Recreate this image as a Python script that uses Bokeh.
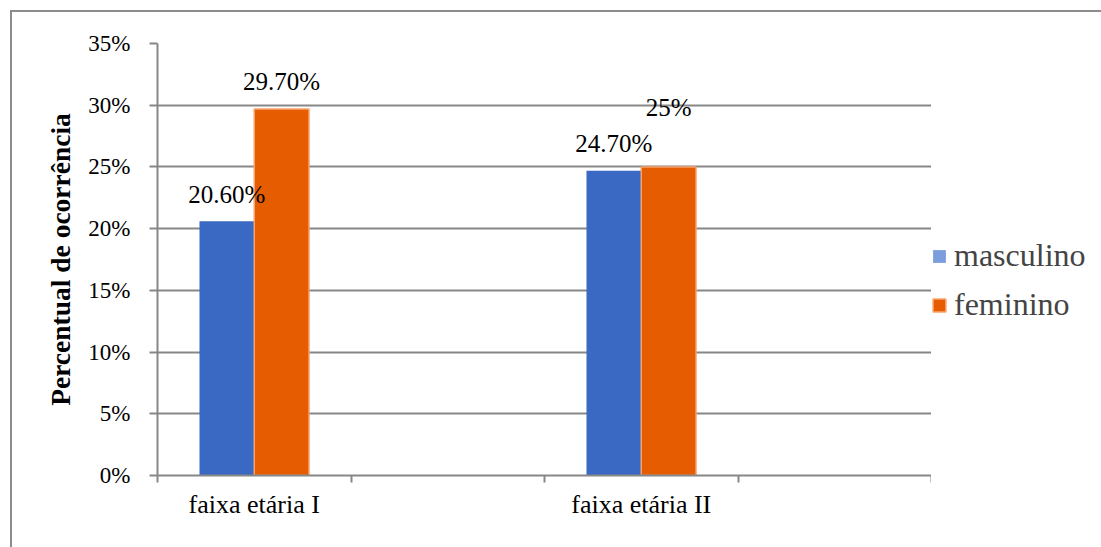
from bokeh.plotting import figure
from bokeh.layouts import row
from bokeh.models import (ColumnDataSource, FixedTicker, PrintfTickFormatter,
                          Legend, LegendItem, InlineStyleSheet)
from bokeh.core.properties import value
from bokeh.embed import file_html
from bokeh.resources import INLINE

# Category slots along the x axis (the empty slots have no bars)
slots = ["faixa etária I", "", "faixa etária II", ""]
groups = ["faixa etária I", "faixa etária II"]

masculino = [20.6, 24.7]
feminino = [29.7, 25.0]
masculino_labels = ["20.60%", "24.70%"]
feminino_labels = ["29.70%", "25%"]

y_ticks = [0, 5, 10, 15, 20, 25, 30, 35]

FONT = "Liberation Serif"
GRID = "#878787"
BLUE = "#3a69c3"
BLUE_KEY = "#7a9ddb"
ORANGE = "#e65c00"
ORANGE_EDGE = "#f7a36b"

bar_w = 0.283
centers = [slots.index(g) + 0.5 for g in groups]

p = figure(width=931, height=547, x_range=(0, len(slots)), y_range=(0, 35),
           output_backend="svg", toolbar_location=None,
           min_border_left=157, min_border_right=0,
           min_border_top=43, min_border_bottom=72)
p.background_fill_color = "white"
p.border_fill_color = "white"
p.outline_line_color = None

src_m = ColumnDataSource(dict(x=[c - bar_w / 2 for c in centers], top=masculino,
                              label=masculino_labels, dy=[-27, -27]))
src_f = ColumnDataSource(dict(x=[c + bar_w / 2 for c in centers], top=feminino,
                              label=feminino_labels, dy=[-27, -59]))

p.vbar(x="x", top="top", width=bar_w, source=src_m,
       fill_color=BLUE, line_color=None)
p.vbar(x="x", top="top", width=bar_w, source=src_f,
       fill_color=ORANGE, line_color=ORANGE_EDGE, line_width=1.5)

for src in (src_m, src_f):
    p.text(x="x", y="top", text="label", source=src, y_offset="dy",
           text_align="center", text_baseline="alphabetic",
           text_font=value(FONT), text_font_size="25px", text_color="black")

# Y axis
p.yaxis.ticker = FixedTicker(ticks=y_ticks)
p.yaxis.formatter = PrintfTickFormatter(format="%d%%")
p.yaxis.axis_line_color = GRID
p.yaxis.axis_line_width = 2
p.yaxis.major_tick_line_color = GRID
p.yaxis.major_tick_line_width = 2
p.yaxis.major_tick_out = 8
p.yaxis.major_tick_in = 0
p.yaxis.minor_tick_line_color = None
p.yaxis.major_label_standoff = 19
p.yaxis.major_label_text_font = FONT
p.yaxis.major_label_text_font_size = "23px"
p.yaxis.major_label_text_color = "black"
p.yaxis.axis_label = "Percentual de ocorrência"
p.yaxis.axis_label_text_font = FONT
p.yaxis.axis_label_text_font_size = "27.5px"
p.yaxis.axis_label_text_font_style = "bold"
p.yaxis.axis_label_text_color = "black"
p.yaxis.axis_label_standoff = 9

# X axis: labels at slot centres, tick marks at slot boundaries
label_pos = [i + 0.5 for i, s in enumerate(slots) if s]
p.xaxis.ticker = FixedTicker(ticks=label_pos, minor_ticks=list(range(len(slots) + 1)))
p.xaxis.major_label_overrides = {i + 0.5: s for i, s in enumerate(slots) if s}
p.xaxis.axis_line_color = GRID
p.xaxis.axis_line_width = 2
p.xaxis.major_tick_line_color = None
p.xaxis.major_tick_out = 0
p.xaxis.major_tick_in = 0
p.xaxis.minor_tick_line_color = GRID
p.xaxis.minor_tick_line_width = 2
p.xaxis.minor_tick_out = 7
p.xaxis.minor_tick_in = 0
p.xaxis.major_label_standoff = 7
p.xaxis.major_label_text_font = FONT
p.xaxis.major_label_text_font_size = "26px"
p.xaxis.major_label_text_color = "black"

p.xgrid.grid_line_color = None
p.ygrid.ticker = FixedTicker(ticks=y_ticks)
p.ygrid.grid_line_color = GRID
p.ygrid.grid_line_width = 2

# Legend panel to the right of the chart
lp = figure(width=170, height=547, x_range=(0, 1), y_range=(0, 1),
            output_backend="svg", toolbar_location=None, min_border=0)
lp.axis.visible = False
lp.grid.grid_line_color = None
lp.outline_line_color = None
lp.background_fill_color = "white"
lp.border_fill_color = "white"

# key glyphs tucked under the legend's opaque box; only their swatches show
key_m = lp.vbar(x=[0.5], bottom=[0.42], top=[0.46], width=0.05,
                fill_color=BLUE_KEY, line_color=None)
key_f = lp.vbar(x=[0.5], bottom=[0.42], top=[0.46], width=0.05,
                fill_color=ORANGE, line_color=ORANGE_EDGE, line_width=1.5)
legend = Legend(items=[LegendItem(label="masculino", renderers=[key_m]),
                       LegendItem(label="feminino", renderers=[key_f])],
                location=(0, 152), orientation="vertical")
legend.margin = 0
legend.padding = 0
legend.border_line_color = None
legend.background_fill_color = "white"
legend.background_fill_alpha = 1
legend.glyph_width = 16
legend.glyph_height = 16
legend.label_standoff = 7
legend.label_height = 30
legend.spacing = 12
legend.label_text_font = FONT
legend.label_text_font_size = "32px"
legend.label_text_baseline = "middle"
lp.add_layout(legend)

layout = row(p, lp, spacing=0)

# Outer chart frame
layout.stylesheets.append(InlineStyleSheet(css="""
:host { position: relative; }
:host::after {
  content: ''; position: absolute; left: 10px; top: 10px; right: 0; bottom: 0;
  border-left: 2px solid #8c8c8c; border-top: 2px solid #8c8c8c;
  pointer-events: none;
}
"""))

open("out.html", "w").write(file_html(layout, INLINE))
